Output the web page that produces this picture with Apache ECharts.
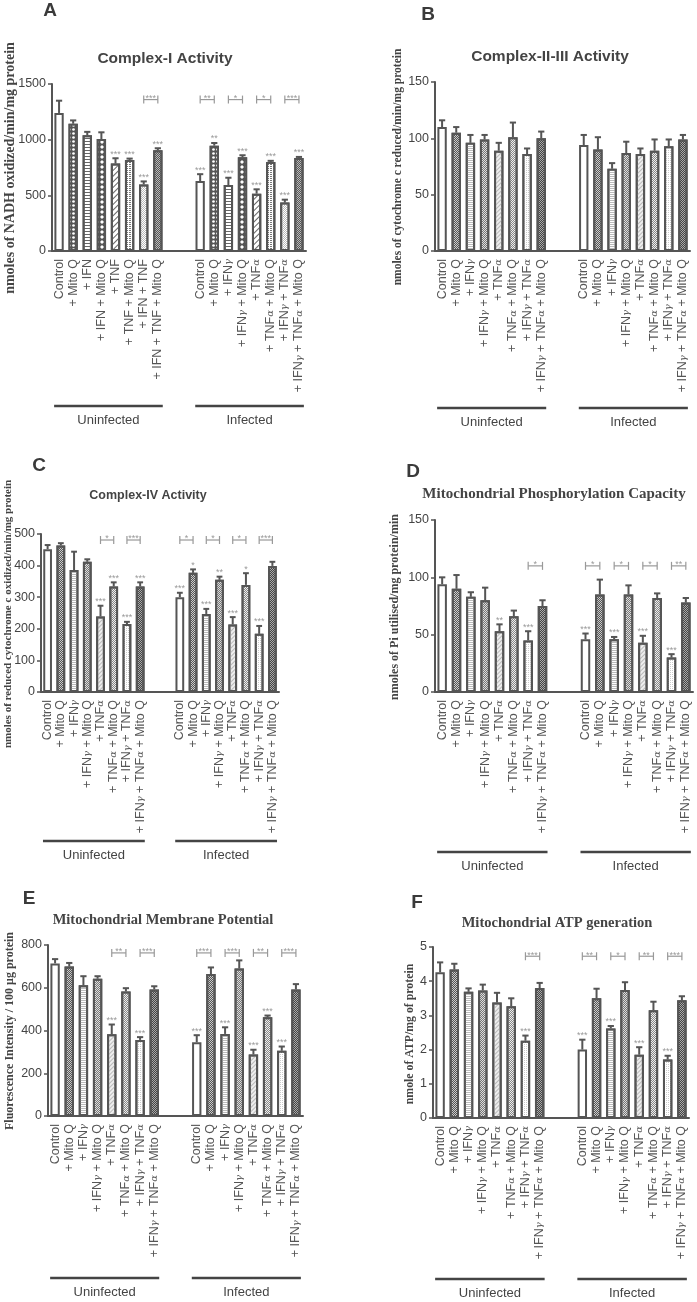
<!DOCTYPE html>
<html><head><meta charset="utf-8">
<script src="https://cdn.jsdelivr.net/npm/echarts@6/dist/echarts.min.js"></script>
<style>html,body{margin:0;padding:0;background:#fff}#c{width:697px;height:1302px}</style>
</head><body><div id="c"></div>
<script>
// ---------- categories ----------
const labelsA = ['Control','+ Mito Q','+ IFN','+ IFN + Mito Q','+ TNF','+ TNF + Mito Q','+ IFN + TNF','+ IFN + TNF + Mito Q'];
const labelsG = ['Control','+ Mito Q','+ IFNγ','+ IFNγ + Mito Q','+ TNFα','+ TNFα + Mito Q','+ IFNγ + TNFα','+ IFNγ + TNFα + Mito Q'];
const groupNames = ['Uninfected','Infected'];

// ---------- A: Complex-I ----------
const A_unVals = [1240,1143,1040,1006,786,818,598,905];
const A_unErr  = [110,30,30,60,47,12,27,18];
const A_unStar = ['','','','','***','***','***','***'];
const A_inVals = [628,946,592,842,515,800,435,836];
const A_inErr  = [62,24,66,18,39,10,26,9];
const A_inStar = ['***','**','***','***','***','***','***','***'];
const A_brk = [[0,6,7,1360,'***'],[1,0,1,1360,'**'],[1,2,3,1360,'*'],[1,4,5,1360,'*'],[1,6,7,1360,'***']];
const A_ticks = [0,500,1000,1500];

// ---------- B: Complex-II-III ----------
const B_unVals = [110,105,96,99,89,101,86,100];
const B_unErr  = [6,5,7,4,7,13,5,6];
const B_unStar = ['','','','','','','',''];
const B_inVals = [94,90,73,87,86,89,93,99];
const B_inErr  = [9,11,5,10,5,10,6,4];
const B_inStar = ['','','','','','','',''];
const B_brk = [];
const B_ticks = [0,50,100,150];

// ---------- C: Complex-IV ----------
const C_unVals = [452,464,386,412,239,334,215,334];
const C_unErr  = [13,7,58,8,34,13,7,13];
const C_unStar = ['','','','','***','***','***','***'];
const C_inVals = [300,377,247,355,214,339,184,399];
const C_inErr  = [14,11,16,10,23,37,25,13];
const C_inStar = ['***','*','***','**','***','*','***',''];
const C_brk = [[0,4,5,481,'*'],[0,6,7,481,'***'],[1,0,1,481,'*'],[1,2,3,481,'*'],[1,4,5,481,'*'],[1,6,7,481,'***']];
const C_ticks = [0,100,200,300,400,500];

// ---------- D: Phosphorylation capacity ----------
const D_unVals = [94,90,83,80,53,66,45,75];
const D_unErr  = [6,12,4,11,6,5,8,5];
const D_unStar = ['','','','','**','','***',''];
const D_inVals = [46,85,46,85,43,82,30,78];
const D_inErr  = [5,13,2,8,6,4,3,4];
const D_inStar = ['***','','***','','***','','***',''];
const D_brk = [[0,6,7,110,'*'],[1,0,1,110,'*'],[1,2,3,110,'*'],[1,4,5,110,'*'],[1,6,7,110,'**']];
const D_ticks = [0,50,100,150];

// ---------- E: Membrane potential ----------
const E_unVals = [714,699,612,642,383,583,356,592];
const E_unErr  = [20,17,42,12,45,15,13,15];
const E_unStar = ['','','','','***','','***',''];
const E_inVals = [345,664,384,690,288,462,305,592];
const E_inErr  = [33,31,31,38,22,8,20,25];
const E_inStar = ['***','','***','','***','***','***',''];
const E_brk = [[0,4,5,763,'**'],[0,6,7,763,'***'],[1,0,1,763,'***'],[1,2,3,763,'***'],[1,4,5,763,'**'],[1,6,7,763,'***']];
const E_ticks = [0,200,400,600,800];

// ---------- F: ATP generation ----------
const F_unVals = [4.26,4.34,3.69,3.73,3.38,3.27,2.26,3.80];
const F_unErr  = [0.29,0.17,0.10,0.17,0.28,0.23,0.15,0.15];
const F_unStar = ['','','','','','','***',''];
const F_inVals = [2.00,3.50,2.62,3.74,1.85,3.15,1.71,3.44];
const F_inErr  = [0.29,0.28,0.07,0.23,0.22,0.25,0.11,0.12];
const F_inStar = ['***','','***','','***','','***',''];
const F_brk = [[0,6,7,4.73,'***'],[1,0,1,4.73,'**'],[1,2,3,4.73,'*'],[1,4,5,4.73,'**'],[1,6,7,4.73,'***']];
const F_ticks = [0,1,2,3,4,5];

// ---------- styles ----------
const checker = [[1,1],[0,1,1,0]];
const patternsA = [
  {color:'#fff'},
  {color:'#555', decal:{symbol:'circle', symbolSize:0.9, color:'#fff', dashArrayX:[3,1], dashArrayY:[3,1]}},
  {color:'#fff', decal:{symbol:'rect', symbolSize:1, color:'#666', dashArrayX:[1,0], dashArrayY:[1,2]}},
  {color:'#555', decal:{symbol:'diamond', symbolSize:1, color:'#fff', dashArrayX:[4,1], dashArrayY:[4,1]}},
  {color:'#fff', decal:{symbol:'rect', symbolSize:1, color:'#666', dashArrayX:[1,0], dashArrayY:[1,3], rotation:-Math.PI/4}},
  {color:'#fff', decal:{symbol:'rect', symbolSize:1, color:'#777', dashArrayX:[2,1], dashArrayY:[1,1]}},
  {color:'#fff', decal:{symbol:'rect', symbolSize:1, color:'#bbb', dashArrayX:checker, dashArrayY:[1,0]}},
  {color:'#bbb', decal:{symbol:'rect', symbolSize:1, color:'#555', dashArrayX:checker, dashArrayY:[1,0]}}
];
const patternsG = [
  {color:'#fff'},
  {color:'#ccc', decal:{symbol:'rect', symbolSize:1, color:'#555', dashArrayX:checker, dashArrayY:[1,0]}},
  {color:'#fff', decal:{symbol:'rect', symbolSize:1, color:'#bbb', dashArrayX:[1,0], dashArrayY:[1,1]}},
  {color:'#ddd', decal:{symbol:'rect', symbolSize:1, color:'#777', dashArrayX:checker, dashArrayY:[1,0]}},
  {color:'#eee', decal:{symbol:'rect', symbolSize:1, color:'#bbb', dashArrayX:[1,0], dashArrayY:[1,2], rotation:-Math.PI/4}},
  {color:'#eee', decal:{symbol:'rect', symbolSize:1, color:'#888', dashArrayX:checker, dashArrayY:[1,0]}},
  {color:'#fff', decal:{symbol:'rect', symbolSize:1, color:'#ccc', dashArrayX:[1,1], dashArrayY:[1,1]}},
  {color:'#aaa', decal:{symbol:'rect', symbolSize:1, color:'#444', dashArrayX:checker, dashArrayY:[1,0]}}
];

// ---------- layout ----------
const panels = [
  {letter:'A', letterPos:[50,11], title:'Complex-I Activity', titleFont:'bold 15.5px "Liberation Sans"', titlePos:[165,59],
   yName:'nmoles of NADH oxidized/min/mg protein', yNameFont:'bold 14px "Liberation Serif"', yNamePos:[10,168],
   grid:[52,84,254,167], ticks:A_ticks, labels:[labelsA,labelsG], pats:patternsA, gOff:155,
   un:[A_unVals,A_unErr,A_unStar], inf:[A_inVals,A_inErr,A_inStar], brk:A_brk},
  {letter:'B', letterPos:[428,15], title:'Complex-II-III Activity', titleFont:'bold 15.5px "Liberation Sans"', titlePos:[550,57],
   yName:'nmoles of cytochrome c reduced/min/mg protein', yNameFont:'bold 11.5px "Liberation Serif"', yNamePos:[398,167],
   grid:[435,82,255,169], ticks:B_ticks, labels:[labelsG,labelsG], pats:patternsG, gOff:157,
   un:[B_unVals,B_unErr,B_unStar], inf:[B_inVals,B_inErr,B_inStar], brk:B_brk},
  {letter:'C', letterPos:[39,466], title:'Complex-IV Activity', titleFont:'bold 12.5px "Liberation Sans"', titlePos:[148,496],
   yName:'nmoles of reduced cytochrome c oxidized/min/mg protein', yNameFont:'bold 11px "Liberation Serif"', yNamePos:[8,614],
   grid:[41,534,238,158], ticks:C_ticks, labels:[labelsG,labelsG], pats:patternsG, gOff:149,
   un:[C_unVals,C_unErr,C_unStar], inf:[C_inVals,C_inErr,C_inStar], brk:C_brk},
  {letter:'D', letterPos:[413,472], title:'Mitochondrial Phosphorylation Capacity', titleFont:'bold 15px "Liberation Serif"', titlePos:[554,494],
   yName:'nmoles of Pi utilised/mg protein/min', yNameFont:'bold 12px "Liberation Serif"', yNamePos:[395,607],
   grid:[435,520,258,172], ticks:D_ticks, labels:[labelsG,labelsG], pats:patternsG, gOff:160,
   un:[D_unVals,D_unErr,D_unStar], inf:[D_inVals,D_inErr,D_inStar], brk:D_brk},
  {letter:'E', letterPos:[29,899], title:'Mitochondrial Membrane Potential', titleFont:'bold 14.5px "Liberation Serif"', titlePos:[163,920],
   yName:'Fluorescence Intensity / 100 μg protein', yNameFont:'bold 12px "Liberation Serif"', yNamePos:[10,1031],
   grid:[48,945,255,171], ticks:E_ticks, labels:[labelsG,labelsG], pats:patternsG, gOff:162,
   un:[E_unVals,E_unErr,E_unStar], inf:[E_inVals,E_inErr,E_inStar], brk:E_brk},
  {letter:'F', letterPos:[417,903], title:'Mitochondrial ATP generation', titleFont:'bold 14.5px "Liberation Serif"', titlePos:[557,923],
   yName:'nmole of ATP/mg of protein', yNameFont:'bold 11.8px "Liberation Serif"', yNamePos:[410,1034],
   grid:[433,947,256,171], ticks:F_ticks, labels:[labelsG,labelsG], pats:patternsG, gOff:161,
   un:[F_unVals,F_unErr,F_unStar], inf:[F_inVals,F_inErr,F_inStar], brk:F_brk}
];

const AX = '#555', TXT = '#444';
const grids = [], xAxes = [], yAxes = [], series = [], graphics = [];
const fmt = v => v.replace(/γ/g,'{g|γ}').replace(/α/g,'{g|α}');
const xIdx = (g, j) => g === 0 ? j : j + 10;

function txt(x, y, text, font, fill, rot) {
  return {type:'text', x:x, y:y, rotation:rot||0, silent:true,
    style:{text:text, font:font, fill:fill, align:'center', verticalAlign:'middle', textAlign:'center', textVerticalAlign:'middle'}};
}

panels.forEach((p, k) => {
  grids.push({left:p.grid[0], top:p.grid[1], width:p.grid[2], height:p.grid[3]});
  const cats = [...p.labels[0], '', '', ...p.labels[1]];
  xAxes.push({type:'category', gridIndex:k, data:cats,
    axisLine:{lineStyle:{color:AX, width:2}},
    axisTick:{alignWithLabel:true, interval:0, length:4, lineStyle:{color:AX, width:1.5}},
    axisLabel:{interval:0, rotate:90, margin:8, color:'#555', fontSize:12.5, fontFamily:'Liberation Sans', formatter:fmt,
      rich:{g:{fontFamily:'DejaVu Serif', fontStyle:'italic', fontSize:10, color:'#555'}}}});
  const t = p.ticks;
  yAxes.push({type:'value', gridIndex:k, min:t[0], max:t[t.length-1], interval:t[1]-t[0],
    axisLine:{show:true, lineStyle:{color:AX, width:2}},
    axisTick:{show:true, length:4, lineStyle:{color:AX, width:1.5}},
    splitLine:{show:false},
    axisLabel:{color:TXT, fontSize:12.5, fontFamily:'Liberation Sans', margin:6, formatter:v => String(v)}});

  const barData = [];
  const errData = [], stars = [];
  [p.un, p.inf].forEach((grp, g) => {
    grp[0].forEach((v, j) => {
      errData.push([xIdx(g,j), v, grp[1][j]]);
      stars.push(grp[2][j]);
    });
  });
  for (let i = 0; i < 18; i++) {
    let g = i < 8 ? 0 : (i >= 10 ? 1 : -1);
    if (g < 0) { barData.push(null); continue; }
    const j = g === 0 ? i : i - 10;
    const v = g === 0 ? p.un[0][j] : p.inf[0][j];
    const pat = p.pats[j];
    const st = {color:pat.color, borderColor:AX, borderWidth:2};
    if (pat.decal) st.decal = pat.decal;
    barData.push({value:v, itemStyle:st});
  }
  series.push({type:'bar', xAxisIndex:k, yAxisIndex:k, barWidth:'66%', data:barData, silent:true});

  series.push({type:'custom', xAxisIndex:k, yAxisIndex:k, clip:false, silent:true, z:5, data:errData,
    renderItem:(params, api) => {
      const x = api.value(0), v = api.value(1), e = api.value(2);
      const b = api.coord([x, v]), tp = api.coord([x, v + e]);
      const w = api.size([1, 0])[0] * 0.22;
      const ch = [
        {type:'line', shape:{x1:b[0], y1:b[1], x2:tp[0], y2:tp[1]}, style:{stroke:AX, lineWidth:2}},
        {type:'line', shape:{x1:tp[0]-w, y1:tp[1], x2:tp[0]+w, y2:tp[1]}, style:{stroke:AX, lineWidth:2}}
      ];
      const s = stars[params.dataIndex];
      if (s) ch.push(txt(tp[0], tp[1]-4, s, '9px "Liberation Sans"', '#999'));
      return {type:'group', children:ch};
    }});

  if (p.brk.length) {
    const bData = p.brk.map(b => [xIdx(b[0], b[1]), b[3], xIdx(b[0], b[2])]);
    const bLab = p.brk.map(b => b[4]);
    series.push({type:'custom', xAxisIndex:k, yAxisIndex:k, clip:false, silent:true, z:5, data:bData,
      renderItem:(params, api) => {
        const p1 = api.coord([api.value(0), api.value(1)]);
        const p2 = api.coord([api.value(2), api.value(1)]);
        const y = p1[1];
        const st = {stroke:'#999', lineWidth:1.2};
        return {type:'group', children:[
          {type:'line', shape:{x1:p1[0], y1:y, x2:p2[0], y2:y}, style:st},
          {type:'line', shape:{x1:p1[0], y1:y-4, x2:p1[0], y2:y+4}, style:st},
          {type:'line', shape:{x1:p2[0], y1:y-4, x2:p2[0], y2:y+4}, style:st},
          txt((p1[0]+p2[0])/2, y-1, bLab[params.dataIndex], '9px "Liberation Sans"', '#999')
        ]};
      }});
  }

  const off = p.gOff;
  series.push({type:'custom', xAxisIndex:k, yAxisIndex:k, clip:false, silent:true, data:[[0,0,7],[10,0,17]],
    renderItem:(params, api) => {
      const s = api.coord([api.value(0), 0]), e = api.coord([api.value(2), 0]);
      const hw = api.size([1, 0])[0] * 0.35;
      const y = s[1] + off;
      return {type:'group', children:[
        {type:'line', shape:{x1:s[0]-hw, y1:y, x2:e[0]+hw, y2:y}, style:{stroke:'#444', lineWidth:2.5}},
        txt((s[0]+e[0])/2, y+14, groupNames[params.dataIndex], '13px "Liberation Sans"', TXT)
      ]};
    }});

  graphics.push(txt(p.letterPos[0], p.letterPos[1], p.letter, 'bold 19px "Liberation Sans"', '#3a3a3a'));
  graphics.push(txt(p.titlePos[0], p.titlePos[1], p.title, p.titleFont, TXT));
  graphics.push(txt(p.yNamePos[0], p.yNamePos[1], p.yName, p.yNameFont, TXT, Math.PI/2));
});

const chart = echarts.init(document.getElementById('c'), null, {renderer:'canvas'});
chart.setOption({
  animation:false,
  backgroundColor:'#fff',
  grid:grids, xAxis:xAxes, yAxis:yAxes, series:series, graphic:graphics
});
</script></body></html>
